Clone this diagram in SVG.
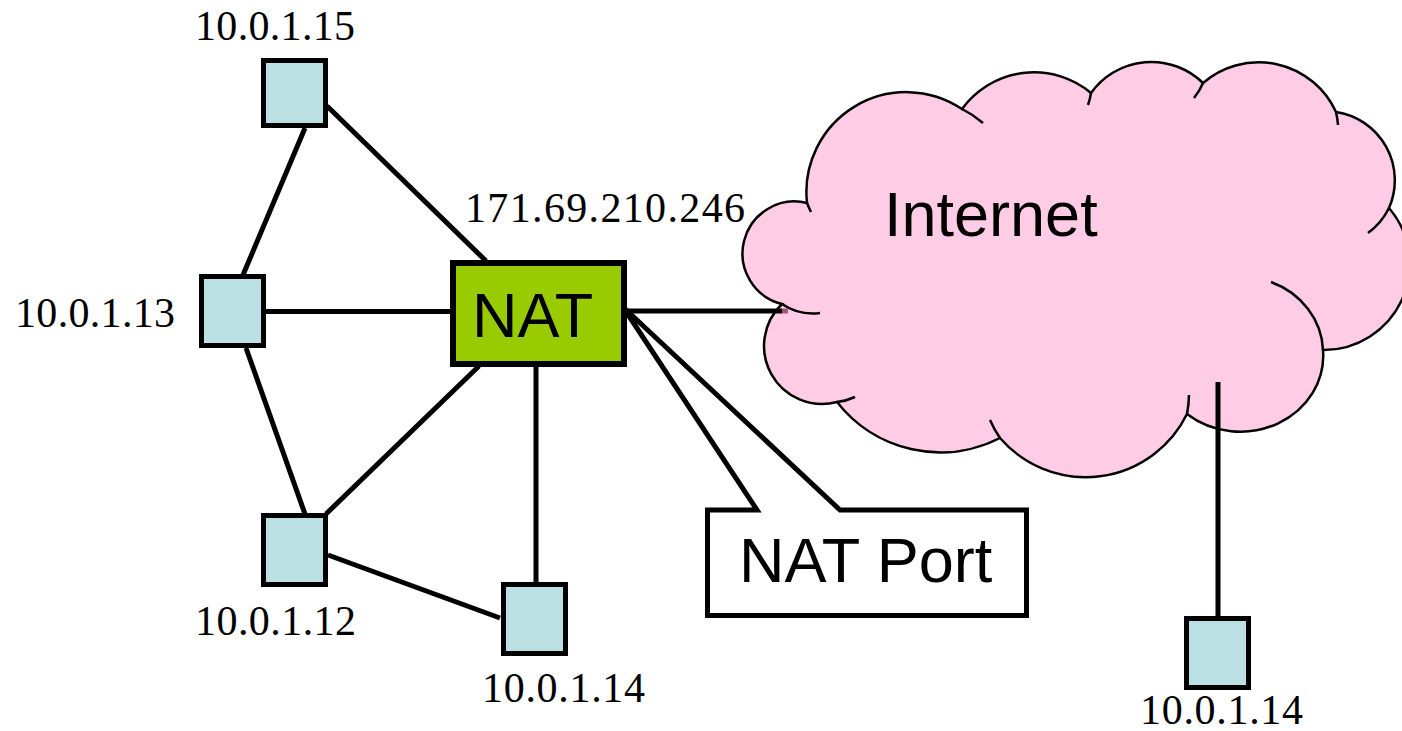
<svg xmlns="http://www.w3.org/2000/svg" width="1402" height="731" viewBox="0 0 1402 731">
<style>
.host{fill:#bae0e3;stroke:#000;stroke-width:5}
.wire{stroke:#000;stroke-width:5;fill:none}
.ip{font-family:"Liberation Serif","Times New Roman",serif;font-size:42px;fill:#000}
.big{font-family:"Liberation Sans",Arial,sans-serif;font-size:63px;fill:#000}
.cloudline{fill:none;stroke:#000;stroke-width:2.5}
</style>
<rect width="1402" height="731" fill="#fff"/>
<g id="internet">
<path d="M807,203 A100 100 0 0 1 962,109 A89 89 0 0 1 1091,93 A74 74 0 0 1 1203,83 A85 85 0 0 1 1336,112 A69 69 0 0 1 1389,208 A86 86 0 0 1 1323,350 A83 76 0 0 1 1187,414 A113 113 0 0 1 1000,438 A131 131 0 0 1 837,402 A58 58 0 0 1 782,304 A52 52 0 0 1 807,203 Z" fill="#ffcce6" stroke="#000" stroke-width="2.5"/>
<path class="cloudline" d="M811,212 A100 100 0 0 1 807,203 M962,109 A100 100 0 0 1 983,123 M1091,93 A60 60 0 0 1 1088,105 M1203,83 A60 60 0 0 1 1194,98 M1336,112 A85 85 0 0 1 1338,125 M1389,208 A69 69 0 0 1 1368,233 M1271,282 A83 76 0 0 1 1323,350 M1189,395 A113 113 0 0 1 1187,414 M1000,438 A113 113 0 0 1 990,420 M855,397 A58 58 0 0 1 837,402 M820,313 A55 55 0 0 1 782,304"/>
<text class="big" x="884" y="236">Internet</text>
</g>
<g id="connectors">
<line class="wire" x1="327" y1="106" x2="486" y2="261"/>
<line class="wire" x1="305" y1="128" x2="243" y2="275"/>
<line class="wire" x1="266" y1="311.5" x2="450" y2="311.5"/>
<line class="wire" x1="246" y1="348" x2="305" y2="514"/>
<line class="wire" x1="326" y1="514" x2="479" y2="366"/>
<line class="wire" x1="328" y1="555" x2="500" y2="618"/>
<line class="wire" x1="536" y1="367" x2="536" y2="582"/>
<line class="wire" x1="627" y1="311" x2="782" y2="311"/>
<rect x="782" y="308.5" width="6" height="5" fill="#9b5b7b"/>
<line class="wire" x1="1218" y1="382" x2="1218" y2="616"/>
</g>
<g id="h15">
<rect class="host" x="263.5" y="60.5" width="62" height="65"/>
<text class="ip" x="195" y="40" textLength="160">10.0.1.15</text>
</g>
<g id="h13">
<rect class="host" x="201.5" y="276.5" width="62" height="69"/>
<text class="ip" x="15" y="327" textLength="160">10.0.1.13</text>
</g>
<g id="h12">
<rect class="host" x="263.5" y="515.5" width="62" height="69"/>
<text class="ip" x="195" y="635" textLength="161">10.0.1.12</text>
</g>
<g id="h14a">
<rect class="host" x="503.5" y="584.5" width="62" height="69"/>
<text class="ip" x="482" y="702" textLength="163">10.0.1.14</text>
</g>
<g id="h14b">
<rect class="host" x="1186.5" y="618.5" width="62" height="69"/>
<text class="ip" x="1140" y="724" textLength="163">10.0.1.14</text>
</g>
<g id="nat">
<rect x="453" y="263" width="171" height="101" fill="#99cc00" stroke="#000" stroke-width="6"/>
<text class="big" x="472" y="337">NAT</text>
<text class="ip" x="465" y="222" textLength="280">171.69.210.246</text>
</g>
<g id="natport">
<path d="M707.5,510 H757 L623,307 L840,510 H1026.5 V615.5 H707.5 Z" fill="#fff" stroke="#000" stroke-width="5"/>
<text class="big" x="739" y="582">NAT Port</text>
</g>
</svg>
